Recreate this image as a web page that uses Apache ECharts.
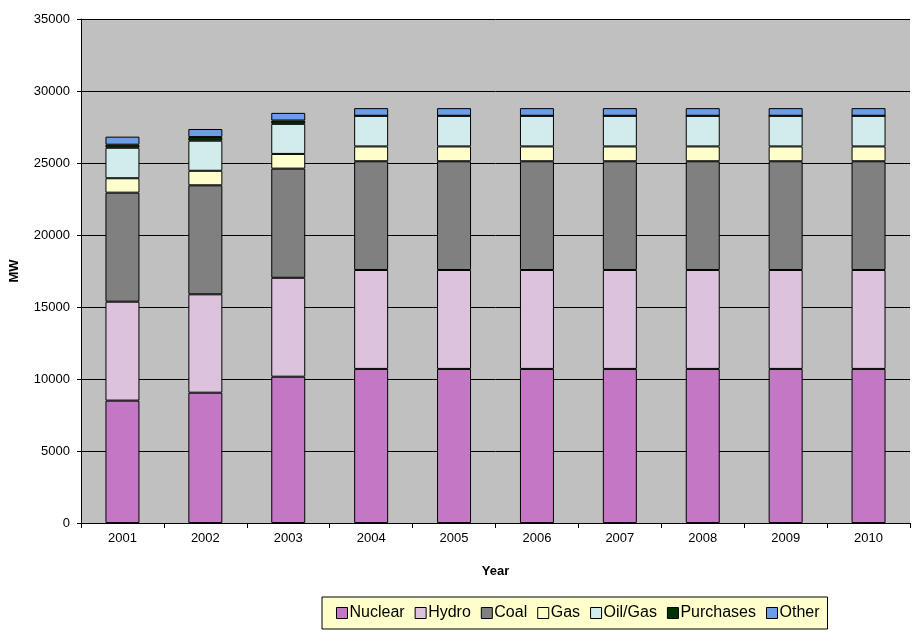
<!DOCTYPE html>
<html>
<head>
<meta charset="utf-8">
<script src="https://cdn.jsdelivr.net/npm/echarts@6/dist/echarts.min.js"></script>
<style>
  html, body { margin: 0; padding: 0; background: #fff; }
  #chart { width: 913px; height: 641px; }
</style>
</head>
<body>
<div id="chart"></div>
<script>
// data (MW)
var years = ['2001', '2002', '2003', '2004', '2005', '2006', '2007', '2008', '2009', '2010'];
var nuclear   = [8500, 9050, 10160, 10700, 10700, 10700, 10700, 10700, 10700, 10700];
var hydro     = [6870, 6830, 6870, 6870, 6870, 6870, 6870, 6870, 6870, 6870];
var coal      = [7570, 7570, 7580, 7550, 7550, 7550, 7550, 7550, 7550, 7550];
var gas       = [1000, 1010, 1020, 1030, 1030, 1030, 1030, 1030, 1030, 1030];
var oilGas    = [2120, 2090, 2090, 2130, 2130, 2130, 2130, 2130, 2130, 2130];
var purchases = [210, 250, 230, 0, 0, 0, 0, 0, 0, 0];
var other     = [560, 560, 530, 530, 530, 530, 530, 530, 530, 530];
var yTicks    = [0, 5000, 10000, 15000, 20000, 25000, 30000, 35000];

var myChart = echarts.init(document.getElementById('chart'));

function bar(name, data, color) {
    return {
        name: name,
        type: 'bar',
        stack: 'mw',
        barWidth: '41%',
        data: data,
        itemStyle: { color: color, borderColor: '#000', borderWidth: 1 }
    };
}

var option = {
    animation: false,
    textStyle: { fontFamily: 'Liberation Sans, Arial, sans-serif', color: '#000' },
    grid: {
        left: 81, right: 3, top: 19, bottom: 118,
        show: true, backgroundColor: '#c0c0c0', borderWidth: 0
    },
    legend: {
        left: 322, top: 597,
        backgroundColor: '#ffffcc',
        borderColor: '#000', borderWidth: 1,
        padding: [8, 8, 8, 14],
        itemWidth: 11, itemHeight: 11, itemGap: 10,
        icon: 'rect',
        itemStyle: { borderColor: '#000', borderWidth: 1 },
        textStyle: { fontSize: 16, color: '#000', padding: [0, 0, 0, -3] },
        data: ['Nuclear', 'Hydro', 'Coal', 'Gas', 'Oil/Gas', 'Purchases', 'Other']
    },
    xAxis: {
        type: 'category',
        data: years,
        name: 'Year',
        nameLocation: 'middle',
        nameGap: 42,
        nameTextStyle: { fontSize: 13, fontWeight: 'bold', color: '#000' },
        axisLine: { lineStyle: { color: '#000', width: 1 } },
        axisTick: { show: true, length: 5, lineStyle: { color: '#000' } },
        axisLabel: { fontSize: 13, color: '#000', margin: 9 }
    },
    yAxis: {
        type: 'value',
        min: yTicks[0], max: yTicks[yTicks.length - 1], interval: 5000,
        name: 'MW',
        nameLocation: 'middle',
        nameGap: 60,
        nameTextStyle: { fontSize: 13, fontWeight: 'bold', color: '#000' },
        axisLine: { show: true, lineStyle: { color: '#000', width: 1 } },
        axisTick: { show: true, length: 4, lineStyle: { color: '#000' } },
        axisLabel: { fontSize: 13, color: '#000', margin: 11, formatter: function (v) { return String(v); } },
        splitLine: { show: true, lineStyle: { color: '#000', width: 1 } }
    },
    series: [
        bar('Nuclear', nuclear, '#c477c4'),
        bar('Hydro', hydro, '#dcc2dc'),
        bar('Coal', coal, '#808080'),
        bar('Gas', gas, '#ffffcc'),
        bar('Oil/Gas', oilGas, '#d2ecec'),
        bar('Purchases', purchases, '#003300'),
        bar('Other', other, '#6a9ee6')
    ]
};

myChart.setOption(option);
</script>
</body>
</html>
